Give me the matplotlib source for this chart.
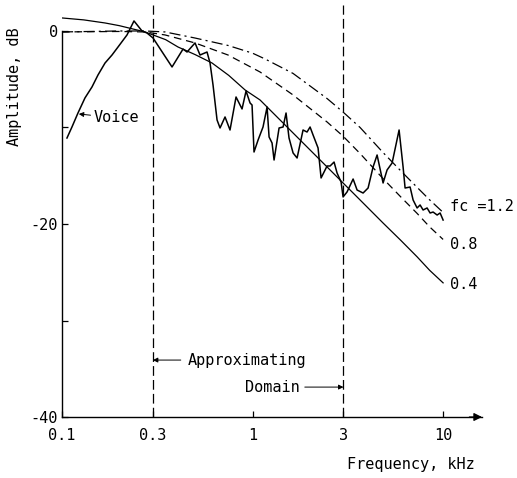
import matplotlib
matplotlib.use("Agg")
import matplotlib.pyplot as plt

plt.rcParams["font.family"] = ["DejaVu Sans Mono", "DejaVu Sans"]
plt.rcParams["font.size"] = 11
plt.rcParams["lines.scale_dashes"] = False

# measured voice spectrum (kHz, dB)
voice_f = [0.1062, 0.1128, 0.1213, 0.1320, 0.1437, 0.1545, 0.1682, 0.1830, 0.1968, 0.2194,
           0.2387, 0.2630, 0.2794, 0.3005,
           0.3780, 0.4318, 0.4531, 0.4991, 0.5302, 0.5770, 0.5983, 0.6204, 0.6512, 0.6752,
           0.7172, 0.7617, 0.8192, 0.8808, 0.9245, 0.9703, 0.9940, 1.018, 1.069, 1.135,
           1.192, 1.221, 1.266, 1.297, 1.378, 1.446, 1.499, 1.554, 1.632, 1.713,
           1.841, 1.932, 2.004, 2.078, 2.207, 2.289, 2.461, 2.552, 2.678, 2.777,
           2.915, 2.986, 3.133, 3.371, 3.537, 3.803, 4.040, 4.291, 4.504, 4.842,
           5.082, 5.400, 5.875, 6.166, 6.317, 6.711, 6.959, 7.303, 7.573, 7.852,
           8.241, 8.546, 8.862, 9.302, 9.645, 10.0]
voice_db = [-11.09, -9.95, -8.50, -6.94, -5.80, -4.56, -3.32, -2.49, -1.66, -0.41,
            1.04, 0.00, -0.21, -0.73,
            -3.73, -1.87, -2.18, -1.24, -2.49, -2.18, -3.32, -5.60, -9.22, -10.05,
            -8.91, -10.26, -6.84, -8.08, -6.22, -7.46, -7.67, -12.54, -11.30, -9.95,
            -7.88, -10.98, -11.61, -13.37, -10.05, -9.95, -8.50, -11.09, -12.64, -13.16,
            -10.26, -10.47, -9.95, -10.78, -12.12, -15.23, -13.99, -13.99, -13.58, -14.72,
            -15.65, -17.20, -16.68, -15.34, -16.48, -16.79, -16.27, -14.09, -12.85, -15.75,
            -14.40, -13.68, -10.26, -14.09, -16.27, -16.17, -17.51, -18.34, -18.03, -18.55,
            -18.34, -18.86, -18.76, -19.07, -18.86, -19.59]

# approximating curves for fc = 1.2, 0.8, 0.4
fc12_f = [0.1, 0.2, 0.2728, 0.3473, 0.4991, 0.7436, 1.0, 1.163, 1.632, 2.461, 2.986,
          3.667, 4.842, 6.0, 7.303, 8.5, 10.0]
fc12_db = [-0.1, 0.0, 0.0, -0.1, -0.73, -1.5, -2.3, -2.9, -4.4, -7.0, -8.4,
           -10.0, -12.6, -14.5, -16.2, -17.5, -18.8]

fc08_f = [0.1, 0.2, 0.2728, 0.3473, 0.4991, 0.7436, 1.095, 1.632, 2.461, 2.986,
          3.667, 4.842, 6.0, 7.303, 8.5, 10.0]
fc08_db = [-0.1, -0.05, -0.1, -0.41, -1.24, -2.49, -4.25, -6.63, -9.43, -10.9,
           -12.7, -15.3, -17.2, -18.9, -20.3, -21.6]

fc04_f = [0.1, 0.13, 0.1682, 0.2, 0.2728, 0.35, 0.4063, 0.5, 0.6131, 0.75,
          0.9134, 1.095, 1.632, 2.461, 2.986, 3.667, 4.842, 6.0, 7.303, 8.5, 10.0]
fc04_db = [1.35, 1.15, 0.83, 0.55, -0.1, -0.9, -1.66, -2.45, -3.32, -4.6,
           -6.11, -7.15, -10.57, -14.09, -15.75, -17.51, -19.90, -21.7, -23.4, -24.8, -26.1]

fc_labels = ["fc =1.2", "0.8", "0.4"]
domain_lo, domain_hi = 0.3, 3.0

xticks = [0.1, 0.3, 1, 3, 10]
xtick_labels = ["0.1", "0.3", "1", "3", "10"]
yticks = [-40, -30, -20, -10, 0]
ytick_labels = ["-40", "", "-20", "", "0"]

fig = plt.figure(figsize=(5.17, 4.78), dpi=100)
ax = fig.add_axes([0.1199, 0.1276, 0.8124, 0.8619])
ax.set_xscale("log")
ax.set_xlim(0.1, 16.0)
ax.set_ylim(-40, 2.69)

ax.plot(fc12_f, fc12_db, color="black", lw=0.9, linestyle=(0, (8, 3, 1.5, 3)))
ax.plot(fc08_f, fc08_db, color="black", lw=0.9, linestyle=(0, (5.5, 3.5)))
ax.plot(fc04_f, fc04_db, color="black", lw=0.9)
ax.plot(voice_f, voice_db, color="black", lw=1.1)

for xv in (domain_lo, domain_hi):
    ax.axvline(xv, color="black", lw=0.9, linestyle=(0, (7, 3)))

# curve labels
ax.text(10.9, -18.2, fc_labels[0], ha="left", va="center")
ax.text(10.9, -22.1, fc_labels[1], ha="left", va="center")
ax.text(10.9, -26.3, fc_labels[2], ha="left", va="center")

arrow = dict(arrowstyle="-|>", color="black", lw=0.7, mutation_scale=7, shrinkA=0, shrinkB=0)
ax.annotate("Voice", xy=(0.1225, -8.6), xytext=(0.146, -9.0), ha="left", va="center",
            arrowprops=arrow)
ax.annotate("", xy=(domain_lo, -34.1), xytext=(0.42, -34.1), arrowprops=arrow)
ax.text(0.459, -34.1, "Approximating", ha="left", va="center")
ax.annotate("", xy=(domain_hi, -36.9), xytext=(1.88, -36.9), arrowprops=arrow)
ax.text(1.776, -36.9, "Domain", ha="right", va="center")

ax.spines["top"].set_visible(False)
ax.spines["right"].set_visible(False)
ax.spines["left"].set_bounds(-40, 0)
ax.spines["left"].set_linewidth(1.0)
ax.spines["bottom"].set_linewidth(1.0)
ax.annotate("", xy=(1.0, 0), xytext=(0.97, 0), xycoords="axes fraction",
            arrowprops=dict(arrowstyle="-|>", color="black", lw=0.9,
                            mutation_scale=12, shrinkA=0, shrinkB=0))

ax.set_xticks(xticks)
ax.set_xticklabels(xtick_labels)
ax.xaxis.set_minor_locator(matplotlib.ticker.NullLocator())
ax.set_yticks(yticks)
ax.set_yticklabels(ytick_labels)
ax.tick_params(direction="in", length=4.5, width=0.9, labelsize=11)
ax.tick_params(axis="x", pad=8)
ax.tick_params(axis="y", pad=3)

fig.text(15 / 517, 1 - 87 / 478, "Amplitude, dB", rotation=90, ha="center", va="center")
fig.text(475 / 517, 1 - 465 / 478, "Frequency, kHz", ha="right", va="center")

fig.savefig("out.png", dpi=100)
